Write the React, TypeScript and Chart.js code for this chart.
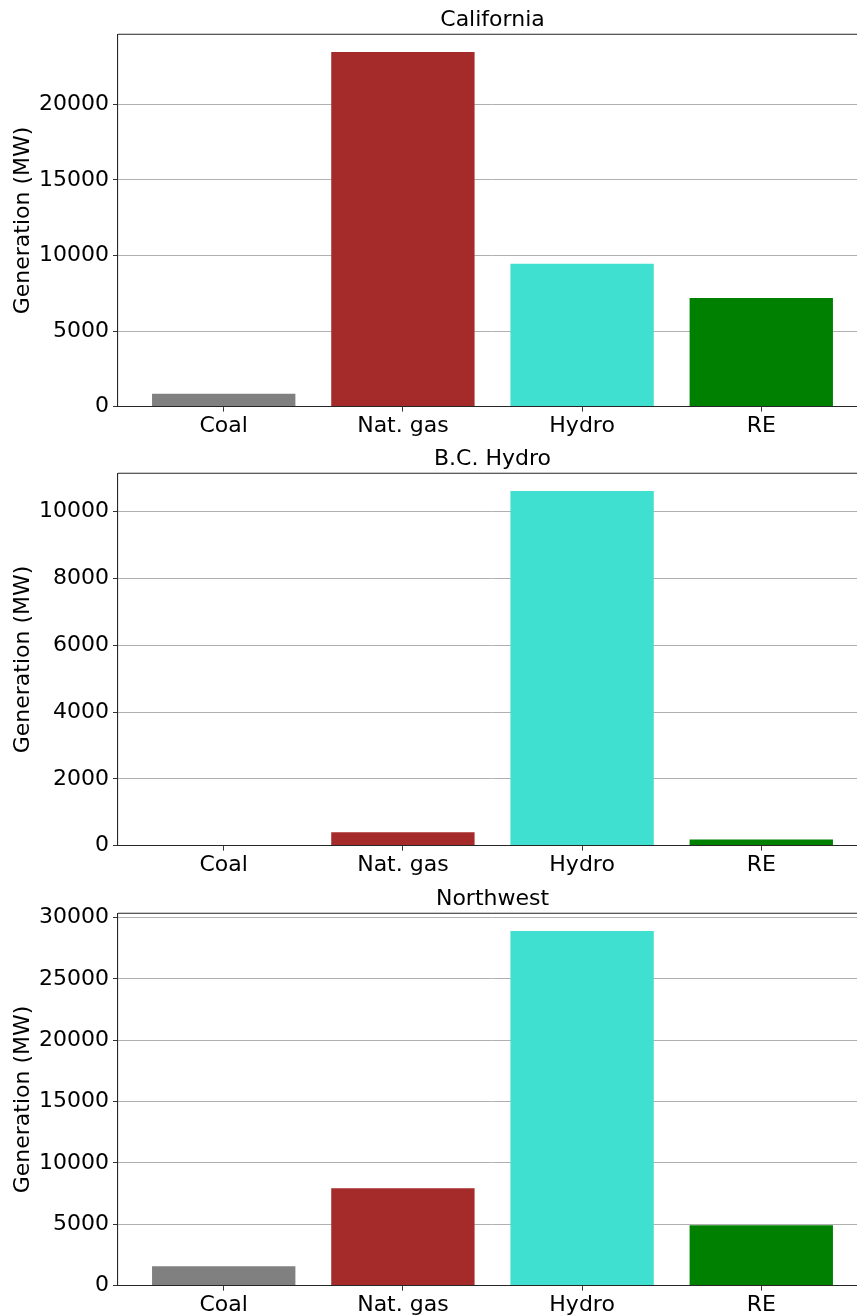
import React, { useEffect, useRef } from "react";
import { Chart, registerables } from "chart.js";

Chart.register(...registerables);

// Generation mix by region (MW)
const CATEGORIES = ["Coal", "Nat. gas", "Hydro", "RE"];
const COLORS = ["#808080", "#a52a2a", "#40e0d0", "#008000"];

const CALIFORNIA = [850, 23470, 9450, 7190];
const BC_HYDRO = [0, 400, 10620, 180];
const NORTHWEST = [1570, 7930, 28900, 4920];

const REGIONS = ["California", "B.C. Hydro", "Northwest"];
const REGION_VALUES = [CALIFORNIA, BC_HYDRO, NORTHWEST];
const Y_STEPS = [5000, 2000, 5000];

const Y_LABEL = "Generation (MW)";
const FONT = "'DejaVu Sans', 'Liberation Sans', sans-serif";

const CANVAS_W = 867;
const PANEL_HEIGHTS = [439, 440, 437];
const PLOT_TOP = 34.3;
const PLOT_BOTTOM = 406.6;
const AXIS_LEFT = 118;

// top and right spines of the axes frame
const frame = {
  id: "frame",
  afterDraw(chart: any) {
    const { ctx, chartArea } = chart;
    ctx.save();
    ctx.strokeStyle = "#262626";
    ctx.lineWidth = 1.1;
    ctx.beginPath();
    ctx.moveTo(chartArea.left, chartArea.top);
    ctx.lineTo(chartArea.right, chartArea.top);
    ctx.lineTo(chartArea.right, chartArea.bottom);
    ctx.stroke();
    ctx.restore();
  },
};

function Panel({ title, values, step, height }: { title: string; values: number[]; step: number; height: number }) {
  const ref = useRef<HTMLCanvasElement | null>(null);

  useEffect(() => {
    if (!ref.current) return;
    const yMax = Math.max(...values) * 1.05;
    const chart = new Chart(ref.current, {
      type: "bar",
      data: {
        datasets: [
          {
            data: values.map((v, i) => ({ x: i, y: v })),
            backgroundColor: COLORS,
            borderWidth: 0,
            barPercentage: 0.8,
            categoryPercentage: 1,
          },
        ],
      },
      options: {
        responsive: false,
        animation: false,
        devicePixelRatio: 1,
        layout: { padding: 0 },
        plugins: {
          legend: { display: false },
          tooltip: { enabled: false },
          title: {
            display: true,
            fullSize: false,
            text: title,
            color: "#000",
            font: { family: FONT, size: 22, weight: "normal", lineHeight: 1.2 },
            padding: { top: 7, bottom: PLOT_TOP - 7 - 26.4 },
          },
        },
        scales: {
          x: {
            type: "linear",
            min: -0.59,
            max: 3.59,
            offset: false,
            afterBuildTicks: (scale: any) => {
              scale.ticks = CATEGORIES.map((_, i) => ({ value: i }));
            },
            afterFit: (scale: any) => {
              scale.height = height - PLOT_BOTTOM;
            },
            ticks: {
              autoSkip: false,
              maxRotation: 0,
              padding: 1,
              color: "#000",
              font: { family: FONT, size: 22 },
              callback: (v: any) => CATEGORIES[Math.round(v)] ?? "",
            },
            grid: {
              display: true,
              offset: false,
              drawOnChartArea: false,
              drawTicks: true,
              tickLength: 5,
              tickColor: "#333",
              tickWidth: 1,
            },
            border: { display: true, color: "#262626", width: 1.1 },
          },
          y: {
            min: 0,
            max: yMax,
            z: 1,
            afterBuildTicks: (scale: any) => {
              const ticks = [];
              for (let v = 0; v <= yMax; v += step) ticks.push({ value: v });
              scale.ticks = ticks;
            },
            afterFit: (scale: any) => {
              scale.width = AXIS_LEFT;
            },
            ticks: {
              autoSkip: false,
              padding: 4,
              color: "#000",
              font: { family: FONT, size: 22 },
              callback: (v: any) => String(v),
            },
            grid: {
              color: "#b0b0b0",
              lineWidth: 1,
              drawTicks: true,
              tickLength: 5,
              tickColor: "#333",
              tickWidth: 1,
            },
            border: { display: true, color: "#262626", width: 1.1 },
            title: {
              display: true,
              text: Y_LABEL,
              color: "#000",
              font: { family: FONT, size: 22, lineHeight: 1.2 },
              padding: { top: 10, bottom: 0 },
            },
          },
        },
      },
      plugins: [frame],
    } as any);
    return () => chart.destroy();
  }, [title, values, step, height]);

  return (
    <canvas
      ref={ref}
      width={CANVAS_W}
      height={height}
      style={{ display: "block", width: CANVAS_W, height }}
    />
  );
}

export default function App() {
  return (
    <div
      style={{
        position: "absolute",
        left: 0,
        top: 0,
        width: 857,
        height: 1316,
        overflow: "hidden",
        background: "#fff",
      }}
    >
      {REGIONS.map((r, i) => (
        <Panel key={r} title={r} values={REGION_VALUES[i]} step={Y_STEPS[i]} height={PANEL_HEIGHTS[i]} />
      ))}
    </div>
  );
}
